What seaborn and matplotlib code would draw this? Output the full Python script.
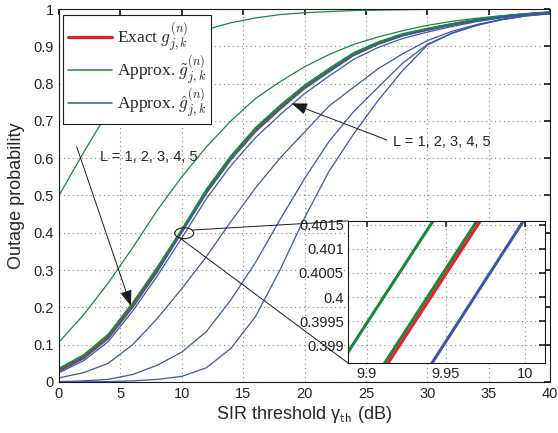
import numpy as np
import pandas as pd
import seaborn as sns
import matplotlib.pyplot as plt
from matplotlib.lines import Line2D
from matplotlib.patches import Ellipse, ConnectionPatch

# SIR threshold grid (dB)
sir_db = np.arange(0, 41, 2)

# exact outage (same for all L)
exact = [0.031, 0.066, 0.12, 0.205, 0.30, 0.403, 0.51, 0.60, 0.675, 0.735, 0.79,
         0.835, 0.878, 0.908, 0.93, 0.945, 0.958, 0.97, 0.979, 0.986, 0.991]

# approx. g-tilde, L = 1..5
tilde_L1 = [0.50, 0.615, 0.725, 0.81, 0.875, 0.918, 0.945, 0.963, 0.976, 0.985, 0.99,
            0.993, 0.996, 0.997, 0.998, 0.999, 0.999, 1.0, 1.0, 1.0, 1.0]
tilde_L2 = [0.107, 0.18, 0.265, 0.36, 0.46, 0.55, 0.63, 0.70, 0.76, 0.805, 0.845,
            0.878, 0.905, 0.925, 0.942, 0.956, 0.967, 0.975, 0.982, 0.987, 0.991]
tilde_L3 = [0.037, 0.073, 0.128, 0.213, 0.308, 0.41, 0.517, 0.607, 0.682, 0.742, 0.796,
            0.841, 0.883, 0.912, 0.934, 0.948, 0.961, 0.972, 0.981, 0.987, 0.992]
tilde_L4 = [0.034, 0.070, 0.124, 0.209, 0.304, 0.404, 0.512, 0.602, 0.678, 0.738, 0.792,
            0.837, 0.880, 0.910, 0.932, 0.947, 0.960, 0.971, 0.980, 0.987, 0.991]
tilde_L5 = tilde_L4

# approx. g-hat, L = 1..5
hat_L1 = [0.0, 0.0005, 0.001, 0.003, 0.007, 0.015, 0.038, 0.09, 0.175, 0.30, 0.44,
          0.565, 0.665, 0.755, 0.835, 0.903, 0.935, 0.956, 0.971, 0.981, 0.987]
hat_L2 = [0.001, 0.003, 0.007, 0.02, 0.045, 0.08, 0.135, 0.22, 0.32, 0.435, 0.545,
          0.645, 0.725, 0.79, 0.855, 0.905, 0.935, 0.956, 0.971, 0.982, 0.988]
hat_L3 = [0.011, 0.025, 0.05, 0.10, 0.17, 0.25, 0.336, 0.43, 0.52, 0.60, 0.67,
          0.74, 0.79, 0.84, 0.88, 0.915, 0.94, 0.958, 0.972, 0.982, 0.988]
hat_L4 = [0.025, 0.057, 0.108, 0.19, 0.284, 0.386, 0.491, 0.58, 0.655, 0.716, 0.773,
          0.82, 0.865, 0.897, 0.921, 0.938, 0.953, 0.966, 0.976, 0.984, 0.989]
hat_L5 = [0.028, 0.062, 0.115, 0.199, 0.294, 0.401, 0.505, 0.595, 0.670, 0.730, 0.786,
          0.831, 0.875, 0.905, 0.928, 0.943, 0.957, 0.969, 0.978, 0.985, 0.990]

# zoomed window around gamma = 10 dB
zoom_x = [9.88, 10.02]
zoom_tilde_L3 = [0.39845, 0.40554]
zoom_tilde_L45 = [0.39705, 0.40413]
zoom_exact = [0.39694, 0.40402]
zoom_hat_L5 = [0.39551, 0.40265]

red = '#e8202a'
green = '#138a40'
blue = '#3b56a8'

sns.set_theme(style="white")
plt.rcParams['font.family'] = ['Liberation Sans', 'DejaVu Sans']
plt.rcParams['mathtext.fontset'] = 'cm'

fig = plt.figure(figsize=(5.58, 4.33), dpi=100)
ax = fig.add_axes([0.1057, 0.1178, 0.88, 0.8614])

sns.lineplot(x=sir_db, y=exact, color=red, lw=1.8, ax=ax)
for y in [tilde_L1, tilde_L2, tilde_L3, tilde_L4, tilde_L5]:
    sns.lineplot(x=sir_db, y=y, color=green, lw=0.9, ax=ax)
for y in [hat_L1, hat_L2, hat_L3, hat_L4, hat_L5]:
    sns.lineplot(x=sir_db, y=y, color=blue, lw=0.9, ax=ax)

grid_style = dict(linestyle=(0, (1, 3)), color='#8a8a8a', lw=0.8)

ax.set_xlim(0, 40)
ax.set_ylim(0, 1)
ax.set_xticks(range(0, 41, 5))
ax.set_yticks(np.arange(0, 1.01, 0.1))
ax.set_yticklabels(['0', '0.1', '0.2', '0.3', '0.4', '0.5', '0.6', '0.7', '0.8', '0.9', '1'])
ax.tick_params(direction='in', labelsize=10.5, length=4, top=True, right=True,
               color='k', colors='#222222')
ax.grid(True, **grid_style)
for s in ax.spines.values():
    s.set_color('k')
    s.set_linewidth(0.8)
ax.set_xlabel('SIR threshold γ$_{\\mathsf{th}}$ (dB)', fontsize=13, labelpad=2)
ax.set_ylabel('Outage probability', fontsize=13, labelpad=6)

handles = [Line2D([], [], color=red, lw=2.3),
           Line2D([], [], color=green, lw=1.1),
           Line2D([], [], color=blue, lw=1.1)]
labels = ['Exact $g_{j,k}^{(n)}$', 'Approx. $\\tilde{g}_{j,k}^{(n)}$',
          'Approx. $\\hat{g}_{j,k}^{(n)}$']
leg = ax.legend(handles, labels, loc='upper left', bbox_to_anchor=(0.008, 0.984),
                borderaxespad=0, fancybox=False, edgecolor='k', framealpha=1,
                prop={'family': 'Liberation Serif', 'size': 12.5}, handlelength=2.5,
                labelspacing=0.0, borderpad=0.3, handletextpad=0.3)
leg.get_frame().set_linewidth(0.8)

# annotations
ax.text(3.34, 0.603, 'L = 1, 2, 3, 4, 5', fontsize=10.5, va='center', ha='left')
ax.text(27.2, 0.643, 'L = 1, 2, 3, 4, 5', fontsize=10.5, va='center', ha='left')
arrow = dict(arrowstyle='-|>,head_length=0.8,head_width=0.3', color='k', lw=0.7,
             shrinkA=0, shrinkB=0)
ax.annotate('', xy=(5.86, 0.204), xytext=(1.44, 0.631), arrowprops=arrow)
ax.annotate('', xy=(18.95, 0.747), xytext=(26.7, 0.649), arrowprops=arrow)
ax.add_patch(Ellipse((10.2, 0.399), 1.55, 0.029, fill=False, ec='k', lw=0.8, zorder=5))

# inset
axin = fig.add_axes([0.6237, 0.1617, 0.353, 0.328])
axin.set_facecolor('white')
sns.lineplot(x=zoom_x, y=zoom_tilde_L3, color=green, lw=2.2, ax=axin)
sns.lineplot(x=zoom_x, y=zoom_tilde_L45, color=green, lw=2.2, ax=axin)
sns.lineplot(x=zoom_x, y=zoom_exact, color=red, lw=2.2, ax=axin)
sns.lineplot(x=zoom_x, y=zoom_hat_L5, color=blue, lw=2.2, ax=axin)
axin.set_xlim(9.888, 10.0127)
axin.set_ylim(0.39863, 0.40158)
axin.set_xticks([9.9, 9.95, 10])
axin.set_xticklabels(['9.9', '9.95', '10'])
axin.set_yticks([0.399, 0.3995, 0.4, 0.4005, 0.401, 0.4015])
axin.set_yticklabels(['0.399', '0.3995', '0.4', '0.4005', '0.401', '0.4015'])
axin.tick_params(direction='in', labelsize=10.5, length=4, top=True, right=True,
                 colors='#222222', pad=3)
axin.grid(True, **grid_style)
for s in axin.spines.values():
    s.set_color('k')
    s.set_linewidth(0.8)

for xyA, xyB in [((10.91, 0.4075), (0, 1)), ((9.85, 0.386), (0, 0))]:
    con = ConnectionPatch(xyA=xyA, coordsA=ax.transData, xyB=xyB, coordsB=axin.transAxes,
                          color='k', lw=0.7)
    fig.add_artist(con)

fig.savefig('out.png', dpi=100)
